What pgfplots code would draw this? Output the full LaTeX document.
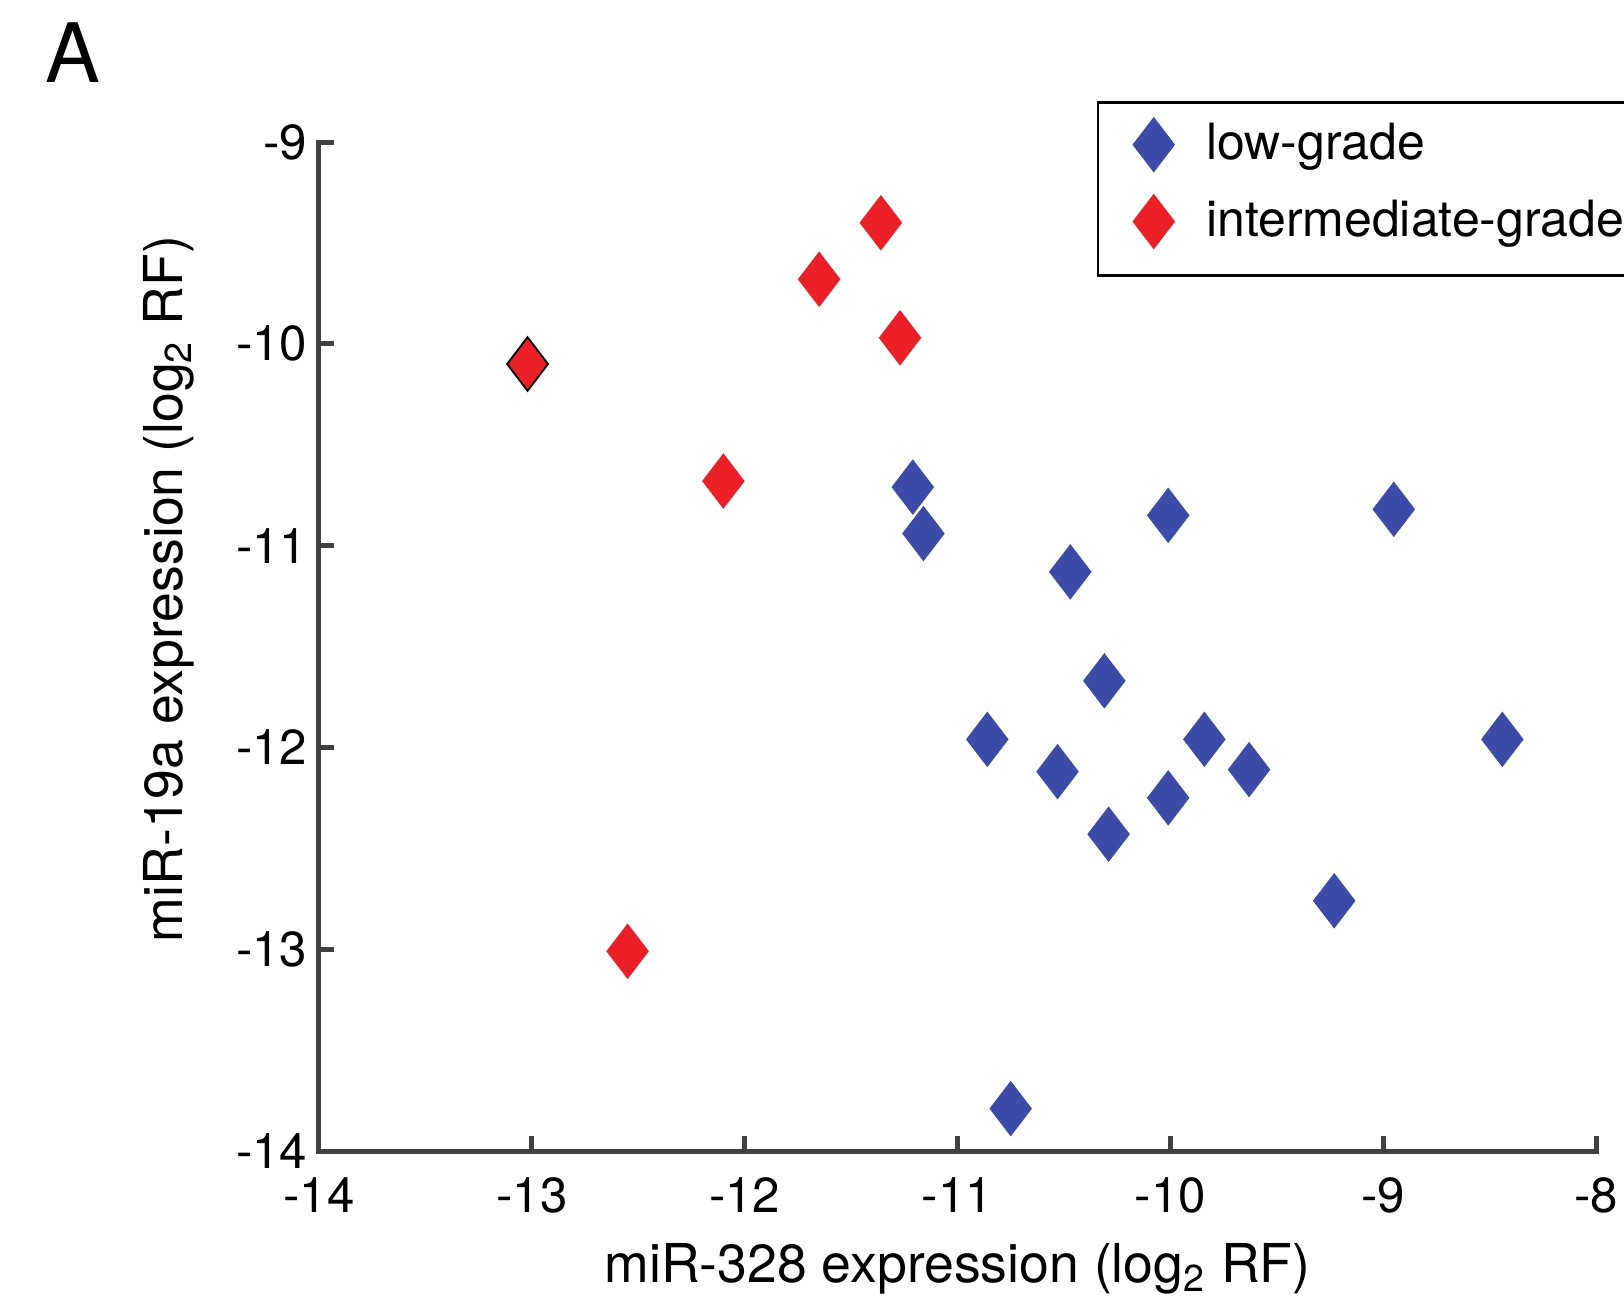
\documentclass[border=0pt]{standalone}
\usepackage{fontspec}
\setmainfont{TeX Gyre Heros}
\usepackage{pgfplots}
\pgfplotsset{compat=1.18}
\definecolor{lowblue}{RGB}{60,75,168}
\definecolor{intred}{RGB}{236,30,38}
\definecolor{axisgray}{RGB}{64,64,64}
\pgfplotsset{
  diamondleg/.style={legend image code/.code={%
    \path[draw=none, fill=none] (0pt,0pt) (20.85pt,0pt);
    \draw[only marks] plot coordinates {(9.75pt,0pt)};}},
}

\begin{document}
\begin{tikzpicture}
\begin{axis}[
  scale only axis,
  width=319.25pt, height=252.25pt,
  xmin=-14, xmax=-8, ymin=-14, ymax=-9,
  xtick={-14,-13,...,-8}, ytick={-14,-13,...,-9},
  axis lines*=left,
  axis line style={-, draw=axisgray, line width=1.25pt, line cap=rect},
  tick align=inside, major tick length=3.75pt,
  tick style={draw=axisgray, line width=1.25pt},
  /pgf/number format/assume math mode=true,
  ticklabel style={font=\fontsize{12.3}{14}\selectfont, text=black},
  yticklabel style={xshift=0.6pt},
  xticklabel style={yshift=-3pt},
  xlabel={miR-328 expression (log\textsubscript{2} RF)},
  ylabel={miR-19a expression (log\textsubscript{2} RF)},
  label style={font=\fontsize{13.4}{16}\selectfont},
  xlabel style={at={(axis description cs:0.5,-0.117)}, anchor=center},
  ylabel style={at={(axis description cs:-0.1175,0.557)}, anchor=center},
  legend style={name=leg, at={(axis description cs:0.610,1.039)}, anchor=north west,
    draw=none, font=\fontsize{12.5}{15}\selectfont,
    inner xsep=4pt, inner ysep=3pt, row sep=4.6pt},
  legend cell align=left,
  clip=false,
]
\addplot[only marks, mark=diamond*, mark size=6.7pt, diamondleg,
  mark options={xscale=1.02, fill=lowblue, draw=lowblue, line width=0.3pt}]
  coordinates {
  (-11.21,-10.71) (-11.16,-10.94) (-10.86,-11.96) (-10.75,-13.79)
  (-10.53,-12.12) (-10.47,-11.13) (-10.31,-11.67) (-10.29,-12.43)
  (-10.01,-12.25) (-10.01,-10.85) (-9.84,-11.96) (-9.63,-12.11)
  (-9.23,-12.76) (-8.95,-10.82) (-8.44,-11.96)
};
\addlegendentry{low-grade}
\addplot[only marks, mark=diamond*, mark size=6.7pt, diamondleg,
  mark options={xscale=1.02, fill=intred, draw=intred, line width=0.3pt}]
  coordinates {
  (-12.55,-13.01) (-12.10,-10.68) (-11.65,-9.68) (-11.36,-9.40) (-11.27,-9.97)
};
\addlegendentry{intermediate-grade}
\addplot[forget plot, only marks, mark=diamond*, mark size=6.7pt,
  mark options={xscale=1.02, fill=intred, draw=black, line width=0.45pt}]
  coordinates {(-13.02,-10.10)};
\node[anchor=base, font=\fontsize{20.5}{24}\selectfont]
  at (axis description cs:-0.1926,1.0595) {A};
\end{axis}
\draw[black, line width=0.7pt] (leg.north west) rectangle ([xshift=40pt,yshift=-3pt]leg.south east);
\pgfresetboundingbox
\path[use as bounding box] (-79.75pt,-37.25pt) rectangle (326.25pt,287.75pt);
\end{tikzpicture}
\end{document}
